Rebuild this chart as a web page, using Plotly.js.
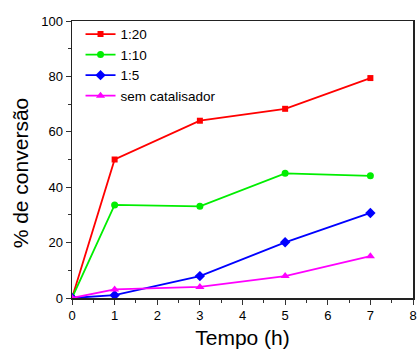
<!DOCTYPE html>
<html>
<head>
<meta charset="utf-8">
<script src="https://cdn.plot.ly/plotly-3.0.1.min.js"></script>
<style>html,body{margin:0;padding:0;background:#fff;}#chart{width:417px;height:350px;}</style>
</head>
<body>
<div id="chart"></div>
<script>
const tempo = [0, 1, 3, 5, 7];
const serie_1_20 = [0, 50, 64, 68.3, 79.4];
const serie_1_10 = [0, 33.6, 33.1, 45, 44.1];
const serie_1_5 = [0, 1.0, 7.9, 20.1, 30.7];
const serie_sem = [0, 3.1, 4.0, 7.9, 15.1];
const nomes = ["1:20", "1:10", "1:5", "sem catalisador"];
const tituloX = "Tempo (h)";
const tituloY = "% de conversão";

const font = "Liberation Sans, Arial, sans-serif";
function tr(y, name, color, symbol, size) {
  return {x: tempo, y: y, name: name, type: "scatter", mode: "lines+markers",
    line: {color: color, width: 1.8}, marker: {color: color, symbol: symbol, size: size}};
}
const data = [
  tr(serie_1_20, nomes[0], "#ff0000", "square", 6),
  tr(serie_1_10, nomes[1], "#00ee00", "circle", 7),
  tr(serie_1_5, nomes[2], "#0000ff", "diamond", 8),
  tr(serie_sem, nomes[3], "#ff00ff", "triangle-up", 8)
];
const layout = {
  width: 417, height: 350,
  margin: {l: 72, r: 4, t: 21, b: 52},
  paper_bgcolor: "#fff", plot_bgcolor: "#fff",
  font: {family: font, color: "#000", size: 13},
  showlegend: true,
  legend: {x: 0.025, y: 1.008, xanchor: "left", yanchor: "top", bgcolor: "rgba(0,0,0,0)",
    font: {size: 13.5, family: font}, tracegroupgap: 0, itemwidth: 30},
  xaxis: {range: [0, 8], dtick: 1, ticks: "outside", ticklen: 5, tickwidth: 1, tickcolor: "#333",
    showline: true, linecolor: "#222", linewidth: 1.5, mirror: true, showgrid: false, zeroline: false,
    minor: {dtick: 0.5, ticks: "outside", ticklen: 3, tickcolor: "#333"},
    tickfont: {size: 13, family: font},
    title: {text: tituloX, font: {size: 21, family: font}, standoff: 8}},
  yaxis: {range: [0, 100], dtick: 20, ticks: "outside", ticklen: 5, tickwidth: 1, tickcolor: "#333",
    showline: true, linecolor: "#222", linewidth: 1.5, mirror: true, showgrid: false, zeroline: false,
    minor: {dtick: 10, ticks: "outside", ticklen: 3, tickcolor: "#333"},
    tickfont: {size: 13, family: font}},
  annotations: [{text: tituloY, xref: "paper", yref: "paper", x: 0, y: 0.45,
    xanchor: "center", yanchor: "middle", xshift: -52, textangle: -90, showarrow: false,
    font: {size: 21, family: font, color: "#000"}}]
};
Plotly.newPlot("chart", data, layout, {displayModeBar: false, staticPlot: true});
</script>
</body>
</html>
